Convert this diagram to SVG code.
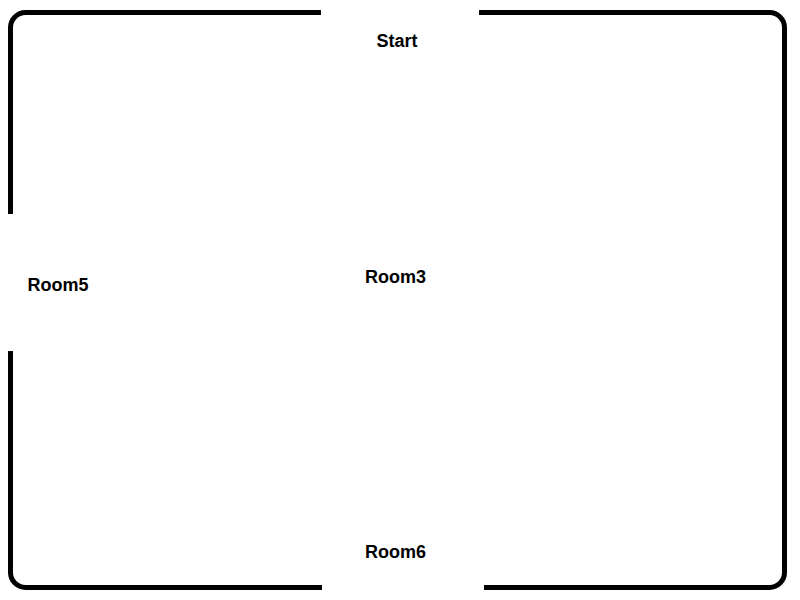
<svg xmlns="http://www.w3.org/2000/svg" width="800" height="600" viewBox="0 0 800 600">
<style>
.wall{fill:none;stroke:#000;stroke-width:5;stroke-linecap:butt;stroke-linejoin:round}
.lbl{font-family:"Liberation Sans",Arial,sans-serif;font-weight:bold;font-size:18px;fill:#000;text-anchor:middle}
</style>
<rect width="800" height="600" fill="#fff"/>
<g id="walls">
<path class="wall" d="M321,12.5 H25.5 A15,15 0 0 0 10.5,27.5 V214"/>
<path class="wall" d="M10.5,351 V572.5 A15,15 0 0 0 25.5,587.5 H322"/>
<path class="wall" d="M484,587.5 H769.5 A15,15 0 0 0 784.5,572.5 V27.5 A15,15 0 0 0 769.5,12.5 H479"/>
</g>
<g id="Start"><text class="lbl" x="397" y="47">Start</text></g>
<g id="Room3"><text class="lbl" x="395.5" y="283">Room3</text></g>
<g id="Room5"><text class="lbl" x="58" y="291">Room5</text></g>
<g id="Room6"><text class="lbl" x="395.5" y="558">Room6</text></g>
</svg>
